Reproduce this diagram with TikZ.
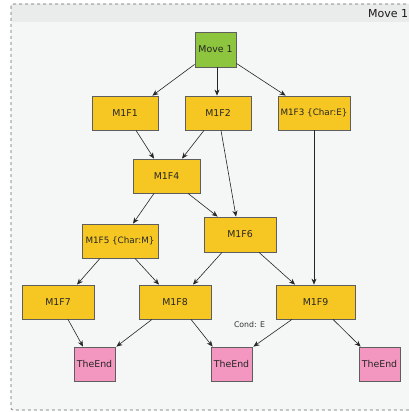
\documentclass[tikz,border=0pt]{standalone}
\usepackage{fontspec}
\setmainfont{DejaVu Sans}
\usetikzlibrary{arrows.meta}
\definecolor{fyellow}{HTML}{F6C723}
\definecolor{fgreen}{HTML}{8DC53F}
\definecolor{fpink}{HTML}{F397C0}
\definecolor{fborder}{HTML}{5E5E5E}
\definecolor{bodybg}{HTML}{F5F6F6}
\definecolor{headbg}{HTML}{EAEBEB}
\begin{document}
\begin{tikzpicture}[x=1pt,y=-1pt,
  box/.style={draw=fborder,line width=0.8pt,minimum height=34pt,inner sep=1pt,
    font=\fontsize{9.4}{10}\selectfont,text=black!85},
  ybox/.style={box,fill=fyellow},
  gbox/.style={box,fill=fgreen},
  pbox/.style={box,fill=fpink},
  smalltext/.style={font=\fontsize{8.8}{10}\selectfont},
  conn/.style={draw=black!85,line width=0.6pt,-{Stealth[length=6pt,width=5pt]}}]
\useasboundingbox (0,0) rectangle (409,412);
\clip (0,0) rectangle (409,412);
% frame
\fill[bodybg,rounded corners=2pt] (11,4) rectangle (420,410);
\fill[headbg,rounded corners=2pt] (11,4) rectangle (420,22);
\draw[black!60,dashed,line width=0.6pt,rounded corners=2pt] (11,4) rectangle (420,410);
\node[anchor=west,inner sep=0pt,font=\fontsize{11}{12}\selectfont,text=black!90] (title) at (368,13.5) {Move 1};
% nodes
\node[gbox,minimum width=41pt,minimum height=35pt] (move1) at (215.5,49.5) {Move 1};
\node[ybox,minimum width=66pt] (f1) at (125,113) {M1F1};
\node[ybox,minimum width=66pt] (f2) at (218,113) {M1F2};
\node[ybox,smalltext,minimum width=72pt] (f3) at (314,113) {M1F3 \{Char:E\}};
\node[ybox,minimum width=67pt] (f4) at (166.5,176) {M1F4};
\node[ybox,smalltext,minimum width=76pt] (f5) at (120,241) {M1F5 \{Char:M\}};
\node[ybox,minimum width=72pt,minimum height=35pt] (f6) at (240,234.5) {M1F6};
\node[ybox,minimum width=72pt] (f7) at (58,302) {M1F7};
\node[ybox,minimum width=72pt] (f8) at (175,302) {M1F8};
\node[ybox,minimum width=79pt] (f9) at (315.5,302) {M1F9};
\node[pbox,minimum width=41pt] (e1) at (94.5,364) {TheEnd};
\node[pbox,minimum width=41pt] (e2) at (231.5,364) {TheEnd};
\node[pbox,minimum width=41pt] (e3) at (379.5,364) {TheEnd};
\node[inner sep=0pt,font=\fontsize{7.8}{9}\selectfont,text=black!80] (cond) at (249.5,325) {Cond: E};
% connectors
\draw[conn] ([yshift=3pt]move1.south west) -- ([xshift=-6pt]f1.north east);
\draw[conn] ([xshift=1.5pt]move1.south) -- ([xshift=-1pt]f2.north);
\draw[conn] ([yshift=4pt]move1.south east) -- ([xshift=8pt]f3.north west);
\draw[conn] ([xshift=11pt]f1.south) -- ([xshift=-12.5pt]f4.north);
\draw[conn] ([xshift=-14pt]f2.south) -- ([xshift=15.5pt]f4.north);
\draw[conn] ([xshift=3pt]f2.south) -- ([xshift=-4pt]f6.north);
\draw[conn] ([xshift=-12.5pt]f4.south) -- ([xshift=13pt]f5.north);
\draw[conn] ([xshift=21.5pt]f4.south) -- ([xshift=14pt]f6.north west);
\draw[conn] ([xshift=-20pt]f5.south) -- ([xshift=19pt]f7.north);
\draw[conn] ([xshift=15pt]f5.south) -- ([xshift=-16pt]f8.north);
\draw[conn] ([xshift=-18pt]f6.south) -- ([xshift=18pt]f8.north);
\draw[conn] ([xshift=19pt]f6.south) -- ([xshift=-20.5pt]f9.north);
\draw[conn] (f3.south) -- ([xshift=-1.5pt]f9.north);
\draw[conn] ([xshift=10pt]f7.south) -- ([xshift=-11.5pt]e1.north);
\draw[conn] ([xshift=-23pt]f8.south) -- ([xshift=1pt]e1.north east);
\draw[conn] ([xshift=16pt]f8.south) -- ([xshift=2pt]e2.north west);
\draw[conn] ([xshift=-23.5pt]f9.south) -- ([xshift=1pt]e2.north east);
\draw[conn] ([xshift=17.5pt]f9.south) -- ([xshift=2pt]e3.north west);
\end{tikzpicture}
\end{document}
